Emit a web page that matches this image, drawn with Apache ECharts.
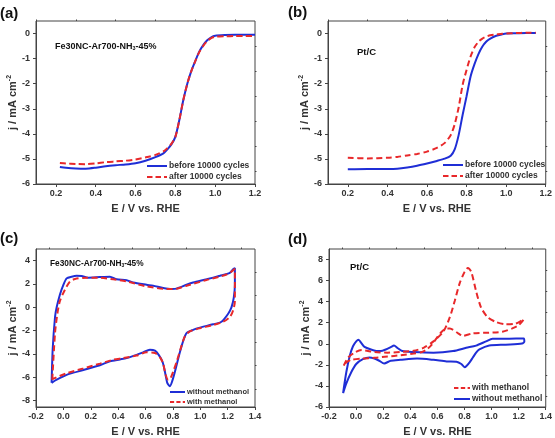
<!DOCTYPE html>
<html><head><meta charset="utf-8">
<script src="https://cdn.jsdelivr.net/npm/echarts@6/dist/echarts.min.js"></script>
<style>html,body{margin:0;padding:0;background:#fff}#c{width:555px;height:438px}</style>
</head><body><div id="c"></div>
<script>
// ---------- (a) Fe30NC-Ar700-NH3-45% ORR ----------
const aE      = [0.22,0.25,0.30,0.35,0.40,0.45,0.50,0.55,0.60,0.65,0.70,0.74,0.76,0.78,0.80,0.82,0.84,0.86,0.88,0.90,0.92,0.94,0.96,0.98,1.00,1.05,1.10,1.15,1.20];
const aBefore = [-5.32,-5.35,-5.38,-5.39,-5.35,-5.29,-5.25,-5.22,-5.17,-5.07,-4.93,-4.78,-4.62,-4.42,-4.12,-3.45,-2.65,-2.00,-1.50,-1.10,-0.72,-0.46,-0.27,-0.15,-0.09,-0.06,-0.05,-0.05,-0.05];
const aAfter  = [-5.16,-5.18,-5.20,-5.21,-5.18,-5.13,-5.10,-5.07,-5.02,-4.94,-4.84,-4.70,-4.57,-4.40,-4.12,-3.45,-2.65,-2.00,-1.50,-1.10,-0.74,-0.49,-0.30,-0.18,-0.13,-0.11,-0.10,-0.10,-0.10];
// ---------- (b) Pt/C ORR ----------
const bE      = [0.20,0.30,0.40,0.45,0.50,0.55,0.60,0.65,0.69,0.72,0.74,0.76,0.78,0.80,0.82,0.84,0.86,0.88,0.90,0.92,0.95,0.98,1.00,1.05,1.10,1.15];
const bBefore = [-5.41,-5.40,-5.40,-5.39,-5.34,-5.27,-5.18,-5.08,-4.99,-4.87,-4.62,-4.05,-3.25,-2.50,-1.72,-1.22,-0.82,-0.52,-0.32,-0.20,-0.09,-0.03,0.00,0.01,0.02,0.02];
const bAfter  = [-4.95,-4.98,-4.95,-4.92,-4.86,-4.80,-4.71,-4.56,-4.36,-4.05,-3.62,-2.95,-2.05,-1.45,-0.92,-0.55,-0.33,-0.20,-0.12,-0.07,-0.04,-0.01,0.00,0.02,0.03,0.03];
// ---------- (c) Fe30NC CV ----------
const cWithoutE = [-0.086,-0.078,-0.061,-0.049,-0.025,0.000,0.024,0.060,0.097,0.133,0.182,0.267,0.340,0.389,0.462,0.510,0.608,0.656,0.729,0.790,0.827,0.900,0.948,1.046,1.143,1.216,1.240,1.253,1.253,1.245,1.228,1.204,1.155,1.094,0.997,0.948,0.900,0.875,0.851,0.827,0.802,0.778,0.759,0.742,0.725,0.700,0.669,0.632,0.583,0.535,0.462,0.413,0.340,0.267,0.146,0.024,-0.049,-0.086];
const cWithoutJ = [-6.48,-3.59,-0.83,0.00,1.10,1.93,2.48,2.62,2.70,2.68,2.54,2.59,2.62,2.40,2.32,2.12,1.93,1.85,1.66,1.57,1.60,1.93,2.12,2.40,2.70,2.95,3.26,3.37,1.93,0.83,0.00,-0.55,-1.24,-1.46,-1.74,-1.93,-2.21,-2.90,-3.86,-4.97,-6.07,-6.76,-6.48,-5.52,-4.69,-4.14,-3.72,-3.64,-3.86,-4.08,-4.36,-4.47,-4.63,-4.97,-5.38,-5.79,-6.21,-6.48];
const cWithE = [-0.081,-0.061,-0.044,-0.025,0.012,0.048,0.085,0.170,0.267,0.364,0.462,0.608,0.754,0.827,0.900,1.046,1.192,1.240,1.253,1.253,1.240,1.216,1.167,1.094,0.997,0.924,0.888,0.863,0.827,0.802,0.783,0.766,0.747,0.729,0.705,0.669,0.608,0.535,0.437,0.364,0.267,0.146,0.024,-0.073,-0.081];
const cWithJ = [-6.21,-2.21,-0.55,0.55,1.52,2.21,2.43,2.54,2.54,2.40,2.21,1.79,1.57,1.60,1.85,2.34,2.81,3.17,3.31,0.55,-0.28,-0.83,-1.24,-1.52,-1.79,-2.07,-2.48,-3.31,-4.69,-5.52,-6.07,-6.21,-5.79,-4.83,-4.28,-3.92,-3.86,-4.14,-4.36,-4.50,-4.83,-5.24,-5.66,-6.12,-6.21];
// ---------- (d) Pt/C CV ----------
const dWithoutE = [-0.096,-0.072,-0.047,-0.023,0.001,0.018,0.038,0.062,0.110,0.159,0.183,0.219,0.256,0.280,0.304,0.341,0.425,0.571,0.716,0.813,0.886,0.959,1.007,1.104,1.238,1.242,1.225,1.104,0.983,0.910,0.886,0.862,0.838,0.813,0.801,0.777,0.741,0.668,0.571,0.450,0.328,0.256,0.207,0.171,0.135,0.098,0.050,0.001,-0.035,-0.072,-0.096];
const dWithoutJ = [-4.68,-2.68,-1.15,-0.23,0.23,0.39,0.08,-0.29,-0.54,-0.69,-0.69,-0.54,-0.32,-0.17,-0.38,-0.69,-0.78,-0.84,-0.69,-0.38,-0.17,0.23,0.48,0.48,0.51,0.23,0.02,-0.08,-0.17,-0.54,-0.84,-1.30,-1.76,-2.13,-2.22,-1.92,-1.70,-1.67,-1.52,-1.40,-1.52,-1.61,-1.86,-1.61,-1.40,-1.30,-1.46,-1.92,-2.68,-3.76,-4.68];
const dWithE = [-0.091,-0.059,-0.011,0.038,0.135,0.232,0.328,0.425,0.498,0.571,0.644,0.692,0.728,0.765,0.801,0.825,0.850,0.886,0.922,0.971,1.032,1.104,1.177,1.225,1.238,1.201,1.153,1.080,0.983,0.862,0.789,0.753,0.692,0.668,0.632,0.595,0.559,0.522,0.486,0.425,0.328,0.232,0.135,0.038,-0.035,-0.072,-0.091];
const dWithJ = [-2.07,-1.30,-0.84,-0.60,-0.78,-0.84,-0.78,-0.66,-0.38,0.23,1.15,2.53,4.07,5.76,6.83,7.20,6.83,4.99,3.46,2.53,2.07,1.86,1.92,2.23,2.32,1.77,1.46,1.15,1.06,1.00,0.75,1.00,1.46,1.46,1.15,0.54,-0.08,-0.54,-0.78,-0.93,-1.09,-1.21,-1.33,-1.40,-1.52,-1.76,-2.07];
// ---------- ticks ----------
const abXTicks = [0.2,0.4,0.6,0.8,1.0,1.2];
const abXMinor = [0.1,0.3,0.5,0.7,0.9,1.1];
const abYTicks = [-6,-5,-4,-3,-2,-1,0];
const abYMinor = [-5.5,-4.5,-3.5,-2.5,-1.5,-0.5];
const cdXTicks = [-0.2,0.0,0.2,0.4,0.6,0.8,1.0,1.2,1.4];
const cdXMinor = [-0.1,0.1,0.3,0.5,0.7,0.9,1.1,1.3];
const cYTicks = [-8,-6,-4,-2,0,2,4];
const cYMinor = [-7,-5,-3,-1,1,3];
const dYTicks = [-6,-4,-2,0,2,4,6,8];
const dYMinor = [-5,-3,-1,1,3,5,7];

const FONT = '"Liberation Sans", Arial, sans-serif';
const BLUE = '#1f2ed6', RED = '#e8282a', AX = '#444';

const panels = [
  {grid:{left:36, top:21, width:219, height:163}, xr:[0.1,1.2], xt:abXTicks, xm:abXMinor, yr:[-6,0.5], yt:abYTicks, ym:abYMinor},
  {grid:{left:328, top:21, width:221, height:163}, xr:[0.1,1.2], xt:abXTicks, xm:abXMinor, yr:[-6,0.5], yt:abYTicks, ym:abYMinor},
  {grid:{left:36, top:249, width:219, height:162.5}, xr:[-0.2,1.4], xt:cdXTicks, xm:cdXMinor, yr:[-8.55,5], yt:cYTicks, ym:cYMinor},
  {grid:{left:329, top:249, width:220, height:162.7}, xr:[-0.2,1.4], xt:cdXTicks, xm:cdXMinor, yr:[-6,9], yt:dYTicks, ym:dYMinor}
];

const labelStyle = {fontFamily:FONT, fontWeight:'bold', fontSize:9, color:'#333'};
const grids=[], xAxes=[], yAxes=[];
panels.forEach((p,i)=>{
  grids.push(Object.assign({show:true, borderColor:AX, borderWidth:1, backgroundColor:'transparent'}, p.grid));
  xAxes.push({gridIndex:i, type:'value', min:p.xr[0], max:p.xr[1],
    axisLine:{onZero:false, lineStyle:{color:AX, width:1}},
    axisTick:{customValues:p.xt, length:3, lineStyle:{color:AX}},
    axisLabel:Object.assign({customValues:p.xt, margin:5, formatter:v=>Number(v).toFixed(1)}, labelStyle),
    splitLine:{show:false},
    name:'E / V vs. RHE', nameLocation:'middle', nameGap:19,
    nameTextStyle:{fontFamily:FONT, fontWeight:'bold', fontSize:11, color:'#333'}});
  xAxes.push({gridIndex:i, type:'value', min:p.xr[0], max:p.xr[1],
    axisLine:{show:false, onZero:false}, axisLabel:{show:false}, splitLine:{show:false},
    axisTick:{customValues:p.xm, length:1.5, lineStyle:{color:AX}}});
  yAxes.push({gridIndex:i, type:'value', min:p.yr[0], max:p.yr[1],
    axisLine:{onZero:false, lineStyle:{color:AX, width:1}},
    axisTick:{customValues:p.yt, length:3, lineStyle:{color:AX}},
    axisLabel:Object.assign({customValues:p.yt, margin:6, formatter:v=>String(Math.round(v))}, labelStyle),
    splitLine:{show:false},
    name:'{m|j / mA cm}{s|-2}', nameLocation:'middle', nameRotate:90, nameGap:13,
    nameTextStyle:{rich:{
      m:{fontFamily:FONT, fontWeight:'bold', fontSize:11, color:'#333', lineHeight:14},
      s:{fontFamily:FONT, fontWeight:'bold', fontSize:7, color:'#333', verticalAlign:'top', lineHeight:8}}}});
  yAxes.push({gridIndex:i, type:'value', min:p.yr[0], max:p.yr[1],
    axisLine:{show:false, onZero:false}, axisLabel:{show:false}, splitLine:{show:false},
    axisTick:{customValues:p.ym, length:1.5, lineStyle:{color:AX}}});
});

const zip = (xs, ys) => xs.map((x,k)=>[x, ys[k]]);
function line(name, i, xs, ys, color, dashed){
  return {name, type:'line', xAxisIndex:2*i, yAxisIndex:2*i, data:zip(xs,ys),
    showSymbol:false, symbol:'none', smooth:0.25, clip:true, animation:false,
    lineStyle:{color, width:2, type: dashed ? [6,3.5] : 'solid'}, itemStyle:{color}};
}
const series = [
  line('before 10000 cycles',0,aE,aBefore,BLUE,false),
  line('after 10000 cycles',0,aE,aAfter,RED,true),
  line('before 10000 cycles',1,bE,bBefore,BLUE,false),
  line('after 10000 cycles',1,bE,bAfter,RED,true),
  line('without methanol',2,cWithoutE,cWithoutJ,BLUE,false),
  line('with methanol',2,cWithE,cWithJ,RED,true),
  line('without methanol',3,dWithoutE,dWithoutJ,BLUE,false),
  line('with methanol',3,dWithE,dWithJ,RED,true)
];

const SOLID_ICON = 'path://M0,0H20V2H0Z';
const DASH_ICON  = 'path://M0,0H5.5V2H0Z M8.5,0H14V2H8.5Z M17,0H20V2H17Z';
function legend(left, top, items, fs, lh, w){
  return {left, top, orient:'vertical', itemWidth:w, itemHeight:2, itemGap:1, padding:0,
    selectedMode:false, symbolKeepAspect:false,
    data:items.map(([name,dashed])=>({name, icon: dashed ? DASH_ICON : SOLID_ICON})),
    textStyle:{fontFamily:FONT, fontWeight:'bold', fontSize:fs, lineHeight:lh, color:'#333', padding:[0,0,0,-3]}};
}
const legends = [
  legend(147, 161, [['before 10000 cycles',false],['after 10000 cycles',true]], 8.5, 10, 20),
  legend(443, 160, [['before 10000 cycles',false],['after 10000 cycles',true]], 8.5, 10, 20),
  legend(170, 387.5, [['without methanol',false],['with methanol',true]], 7.5, 9, 15),
  legend(454, 383, [['with methanol',true],['without methanol',false]], 8.5, 10, 16)
];

function txt(x, y, text, size, rich){
  const st = {text, x:0, y:0, fill:'#111', align:'left', verticalAlign:'middle',
    font:'bold '+size+'px '+FONT};
  if (rich) st.rich = rich;
  return {type:'text', x, y, style:st, silent:true};
}
function nh3(size){
  return {a:{fontFamily:FONT, fontWeight:'bold', fontSize:size, color:'#222'},
          b:{fontFamily:FONT, fontWeight:'bold', fontSize:size*0.6, color:'#222', verticalAlign:'bottom'}};
}
const graphic = [
  txt(0, 13.5, '(a)', 15), txt(288, 12.5, '(b)', 15), txt(0, 238.5, '(c)', 15), txt(288, 239.5, '(d)', 15),
  txt(55, 47, '{a|Fe30NC-Ar700-NH}{b|3}{a|-45%}', 9, nh3(9)),
  txt(357, 52, 'Pt/C', 9.5),
  txt(50, 264, '{a|Fe30NC-Ar700-NH}{b|3}{a|-45%}', 8.3, nh3(8.3)),
  txt(350, 267, 'Pt/C', 9.5)
];

const chart = echarts.init(document.getElementById('c'), null, {renderer:'canvas'});
chart.setOption({backgroundColor:'#fff', animation:false, grid:grids, xAxis:xAxes, yAxis:yAxes,
  series, legend:legends, graphic});
</script></body></html>
